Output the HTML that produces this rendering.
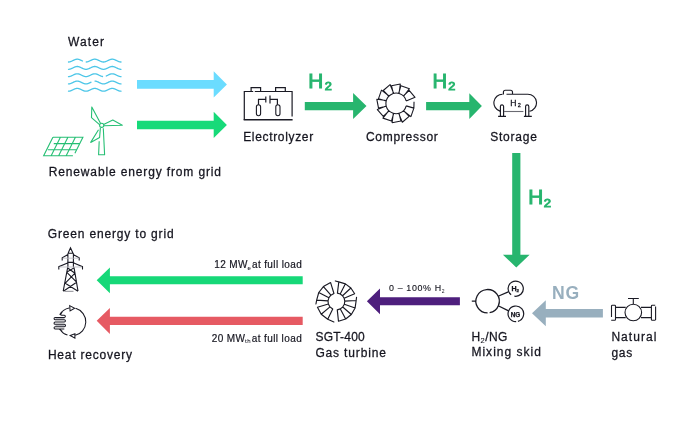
<!DOCTYPE html>
<html><head><meta charset="utf-8"><style>
html,body{margin:0;padding:0;background:#fff;width:700px;height:428px;overflow:hidden}
svg{display:block;font-family:"Liberation Sans",sans-serif;will-change:transform}
</style></head><body>
<svg width="700" height="428" viewBox="0 0 700 428">
<rect width="700" height="428" fill="#fff"/>
<path d="M68.5,62 L68.75,61.99 L69,61.98 L69.25,61.95 L69.5,61.91 L69.75,61.86 L70,61.8 L70.25,61.73 L70.5,61.65 L70.75,61.57 L71,61.47 L71.25,61.37 L71.5,61.26 L71.75,61.15 L72,61.03 L72.25,60.91 L72.5,60.79 L72.75,60.66 L73,60.54 L73.25,60.41 L73.5,60.29 L73.75,60.17 L74,60.05 L74.25,59.94 L74.5,59.83 L74.75,59.73 L75,59.63 L75.25,59.55 L75.5,59.47 L75.75,59.4 L76,59.34 L76.25,59.29 L76.5,59.25 L76.75,59.22 L77,59.21 L77.25,59.2 L77.5,59.21 L77.75,59.22 L78,59.25 L78.25,59.29 L78.5,59.34 L78.75,59.4 L79,59.47 L79.25,59.55 L79.5,59.63 L79.75,59.73 L80,59.83 L80.25,59.94 L80.5,60.05 L80.75,60.17 L81,60.29 L81.25,60.41 L81.5,60.54 L81.75,60.66 L82,60.79 L82.25,60.91 L82.5,61.03M86.25,61.99 L86.5,61.98 L86.75,61.95 L87,61.91 L87.25,61.86 L87.5,61.8 L87.75,61.73 L88,61.65 L88.25,61.57 L88.5,61.47 L88.75,61.37 L89,61.26 L89.25,61.15 L89.5,61.03 L89.75,60.91 L90,60.79 L90.25,60.66 L90.5,60.54 L90.75,60.41 L91,60.29 L91.25,60.17 L91.5,60.05 L91.75,59.94 L92,59.83 L92.25,59.73 L92.5,59.63 L92.75,59.55 L93,59.47 L93.25,59.4 L93.5,59.34 L93.75,59.29 L94,59.25 L94.25,59.22 L94.5,59.21 L94.75,59.2 L95,59.21 L95.25,59.22 L95.5,59.25 L95.75,59.29 L96,59.34 L96.25,59.4 L96.5,59.47 L96.75,59.55 L97,59.63 L97.25,59.73 L97.5,59.83 L97.75,59.94 L98,60.05 L98.25,60.17 L98.5,60.29 L98.75,60.41 L99,60.54 L99.25,60.66 L99.5,60.79 L99.75,60.91 L100,61.03 L100.25,61.15 L100.5,61.26 L100.75,61.37 L101,61.47 L101.25,61.57 L101.5,61.65 L101.75,61.73 L102,61.8 L102.25,61.86 L102.5,61.91 L102.75,61.95 L103,61.98 L103.25,61.99 L103.5,62 L103.75,61.99 L104,61.98 L104.25,61.95 L104.5,61.91 L104.75,61.86 L105,61.8 L105.25,61.73 L105.5,61.65 L105.75,61.57 L106,61.47 L106.25,61.37 L106.5,61.26 L106.75,61.15 L107,61.03 L107.25,60.91 L107.5,60.79 L107.75,60.66 L108,60.54 L108.25,60.41 L108.5,60.29 L108.75,60.17 L109,60.05 L109.25,59.94 L109.5,59.83 L109.75,59.73 L110,59.63 L110.25,59.55 L110.5,59.47 L110.75,59.4 L111,59.34 L111.25,59.29 L111.5,59.25 L111.75,59.22 L112,59.21 L112.25,59.2 L112.5,59.21 L112.75,59.22 L113,59.25 L113.25,59.29 L113.5,59.34 L113.75,59.4 L114,59.47 L114.25,59.55 L114.5,59.63 L114.75,59.73 L115,59.83 L115.25,59.94 L115.5,60.05 L115.75,60.17 L116,60.29 L116.25,60.41 L116.5,60.54 L116.75,60.66 L117,60.79 L117.25,60.91 L117.5,61.03 L117.75,61.15 L118,61.26 L118.25,61.37 L118.5,61.47 L118.75,61.57 L119,61.65 L119.25,61.73 L119.5,61.8 L119.75,61.86 L120,61.91 L120.25,61.95 L120.5,61.98 L120.75,61.99 L121,62M68.5,69.3 L68.75,69.29 L69,69.28 L69.25,69.25 L69.5,69.21 L69.75,69.16 L70,69.1 L70.25,69.03 L70.5,68.95 L70.75,68.87 L71,68.77 L71.25,68.67 L71.5,68.56 L71.75,68.45 L72,68.33 L72.25,68.21 L72.5,68.09 L72.75,67.96 L73,67.84 L73.25,67.71 L73.5,67.59 L73.75,67.47 L74,67.35 L74.25,67.24 L74.5,67.13 L74.75,67.03 L75,66.93 L75.25,66.85 L75.5,66.77 L75.75,66.7 L76,66.64 L76.25,66.59 L76.5,66.55 L76.75,66.52 L77,66.51 L77.25,66.5 L77.5,66.51 L77.75,66.52 L78,66.55 L78.25,66.59 L78.5,66.64 L78.75,66.7 L79,66.77 L79.25,66.85 L79.5,66.93 L79.75,67.03 L80,67.13 L80.25,67.24 L80.5,67.35 L80.75,67.47 L81,67.59 L81.25,67.71 L81.5,67.84 L81.75,67.96 L82,68.09 L82.25,68.21 L82.5,68.33 L82.75,68.45 L83,68.56 L83.25,68.67 L83.5,68.77 L83.75,68.87 L84,68.95 L84.25,69.03 L84.5,69.1 L84.75,69.16 L85,69.21 L85.25,69.25 L85.5,69.28 L85.75,69.29 L86,69.3 L86.25,69.29 L86.5,69.28 L86.75,69.25 L87,69.21 L87.25,69.16 L87.5,69.1 L87.75,69.03 L88,68.95 L88.25,68.87 L88.5,68.77 L88.75,68.67 L89,68.56 L89.25,68.45 L89.5,68.33 L89.75,68.21 L90,68.09 L90.25,67.96 L90.5,67.84 L90.75,67.71 L91,67.59 L91.25,67.47 L91.5,67.35 L91.75,67.24 L92,67.13 L92.25,67.03 L92.5,66.93 L92.75,66.85 L93,66.77 L93.25,66.7 L93.5,66.64 L93.75,66.59 L94,66.55 L94.25,66.52 L94.5,66.51 L94.75,66.5 L95,66.51 L95.25,66.52 L95.5,66.55 L95.75,66.59 L96,66.64 L96.25,66.7 L96.5,66.77 L96.75,66.85 L97,66.93 L97.25,67.03 L97.5,67.13 L97.75,67.24 L98,67.35 L98.25,67.47 L98.5,67.59 L98.75,67.71 L99,67.84 L99.25,67.96 L99.5,68.09 L99.75,68.21 L100,68.33 L100.25,68.45 L100.5,68.56 L100.75,68.67 L101,68.77 L101.25,68.87 L101.5,68.95 L101.75,69.03 L102,69.1 L102.25,69.16 L102.5,69.21 L102.75,69.25 L103,69.28 L103.25,69.29 L103.5,69.3 L103.75,69.29 L104,69.28 L104.25,69.25 L104.5,69.21 L104.75,69.16 L105,69.1 L105.25,69.03 L105.5,68.95 L105.75,68.87 L106,68.77 L106.25,68.67 L106.5,68.56 L106.75,68.45 L107,68.33 L107.25,68.21 L107.5,68.09 L107.75,67.96 L108,67.84 L108.25,67.71 L108.5,67.59 L108.75,67.47 L109,67.35 L109.25,67.24 L109.5,67.13 L109.75,67.03 L110,66.93 L110.25,66.85 L110.5,66.77 L110.75,66.7 L111,66.64 L111.25,66.59 L111.5,66.55 L111.75,66.52 L112,66.51 L112.25,66.5 L112.5,66.51 L112.75,66.52 L113,66.55 L113.25,66.59 L113.5,66.64 L113.75,66.7 L114,66.77 L114.25,66.85 L114.5,66.93 L114.75,67.03 L115,67.13 L115.25,67.24 L115.5,67.35 L115.75,67.47 L116,67.59 L116.25,67.71 L116.5,67.84 L116.75,67.96 L117,68.09 L117.25,68.21 L117.5,68.33 L117.75,68.45 L118,68.56 L118.25,68.67 L118.5,68.77 L118.75,68.87 L119,68.95 L119.25,69.03 L119.5,69.1 L119.75,69.16 L120,69.21 L120.25,69.25 L120.5,69.28 L120.75,69.29 L121,69.3M68.5,76.6 L68.75,76.59 L69,76.58 L69.25,76.55 L69.5,76.51 L69.75,76.46 L70,76.4 L70.25,76.33 L70.5,76.25 L70.75,76.17 L71,76.07 L71.25,75.97 L71.5,75.86 L71.75,75.75 L72,75.63 L72.25,75.51 L72.5,75.39 L72.75,75.26 L73,75.14 L73.25,75.01 L73.5,74.89 L73.75,74.77 L74,74.65 L74.25,74.54 L74.5,74.43 L74.75,74.33 L75,74.23 L75.25,74.15 L75.5,74.07 L75.75,74 L76,73.94 L76.25,73.89 L76.5,73.85 L76.75,73.82 L77,73.81 L77.25,73.8 L77.5,73.81 L77.75,73.82 L78,73.85 L78.25,73.89 L78.5,73.94 L78.75,74 L79,74.07 L79.25,74.15 L79.5,74.23 L79.75,74.33 L80,74.43 L80.25,74.54 L80.5,74.65 L80.75,74.77 L81,74.89 L81.25,75.01 L81.5,75.14 L81.75,75.26 L82,75.39 L82.25,75.51 L82.5,75.63 L82.75,75.75 L83,75.86 L83.25,75.97 L83.5,76.07 L83.75,76.17 L84,76.25 L84.25,76.33 L84.5,76.4 L84.75,76.46 L85,76.51 L85.25,76.55 L85.5,76.58 L85.75,76.59 L86,76.6 L86.25,76.59 L86.5,76.58 L86.75,76.55 L87,76.51 L87.25,76.46 L87.5,76.4 L87.75,76.33 L88,76.25 L88.25,76.17 L88.5,76.07 L88.75,75.97 L89,75.86 L89.25,75.75 L89.5,75.63 L89.75,75.51 L90,75.39 L90.25,75.26 L90.5,75.14 L90.75,75.01 L91,74.89 L91.25,74.77 L91.5,74.65 L91.75,74.54 L92,74.43 L92.25,74.33 L92.5,74.23 L92.75,74.15 L93,74.07 L93.25,74 L93.5,73.94 L93.75,73.89 L94,73.85 L94.25,73.82 L94.5,73.81 L94.75,73.8 L95,73.81 L95.25,73.82 L95.5,73.85 L95.75,73.89 L96,73.94 L96.25,74 L96.5,74.07 L96.75,74.15 L97,74.23 L97.25,74.33 L97.5,74.43 L97.75,74.54 L98,74.65 L98.25,74.77 L98.5,74.89 L98.75,75.01 L99,75.14 L99.25,75.26 L99.5,75.39 L99.75,75.51 L100,75.63 L100.25,75.75 L100.5,75.86 L100.75,75.97 L101,76.07 L101.25,76.17 L101.5,76.25 L101.75,76.33 L102,76.4 L102.25,76.46 L102.5,76.51M106.25,75.97 L106.5,75.86 L106.75,75.75 L107,75.63 L107.25,75.51 L107.5,75.39 L107.75,75.26 L108,75.14 L108.25,75.01 L108.5,74.89 L108.75,74.77 L109,74.65 L109.25,74.54 L109.5,74.43 L109.75,74.33 L110,74.23 L110.25,74.15 L110.5,74.07 L110.75,74 L111,73.94 L111.25,73.89 L111.5,73.85 L111.75,73.82 L112,73.81 L112.25,73.8 L112.5,73.81 L112.75,73.82 L113,73.85 L113.25,73.89 L113.5,73.94 L113.75,74 L114,74.07 L114.25,74.15 L114.5,74.23 L114.75,74.33 L115,74.43 L115.25,74.54 L115.5,74.65 L115.75,74.77 L116,74.89 L116.25,75.01 L116.5,75.14 L116.75,75.26 L117,75.39 L117.25,75.51 L117.5,75.63 L117.75,75.75 L118,75.86 L118.25,75.97 L118.5,76.07 L118.75,76.17 L119,76.25 L119.25,76.33 L119.5,76.4 L119.75,76.46 L120,76.51 L120.25,76.55 L120.5,76.58 L120.75,76.59 L121,76.6M68.5,83.9 L68.75,83.89 L69,83.88 L69.25,83.85 L69.5,83.81 L69.75,83.76 L70,83.7 L70.25,83.63 L70.5,83.55 L70.75,83.47 L71,83.37 L71.25,83.27 L71.5,83.16 L71.75,83.05 L72,82.93 L72.25,82.81 L72.5,82.69 L72.75,82.56 L73,82.44 L73.25,82.31 L73.5,82.19 L73.75,82.07 L74,81.95 L74.25,81.84 L74.5,81.73 L74.75,81.63 L75,81.53 L75.25,81.45 L75.5,81.37 L75.75,81.3 L76,81.24 L76.25,81.19 L76.5,81.15 L76.75,81.12 L77,81.11 L77.25,81.1 L77.5,81.11 L77.75,81.12 L78,81.15 L78.25,81.19 L78.5,81.24 L78.75,81.3 L79,81.37 L79.25,81.45 L79.5,81.53 L79.75,81.63 L80,81.73 L80.25,81.84 L80.5,81.95 L80.75,82.07 L81,82.19 L81.25,82.31 L81.5,82.44 L81.75,82.56 L82,82.69 L82.25,82.81 L82.5,82.93 L82.75,83.05 L83,83.16 L83.25,83.27 L83.5,83.37 L83.75,83.47 L84,83.55 L84.25,83.63 L84.5,83.7 L84.75,83.76 L85,83.81 L85.25,83.85 L85.5,83.88 L85.75,83.89 L86,83.9 L86.25,83.89 L86.5,83.88 L86.75,83.85 L87,83.81 L87.25,83.76 L87.5,83.7 L87.75,83.63 L88,83.55 L88.25,83.47 L88.5,83.37 L88.75,83.27 L89,83.16 L89.25,83.05 L89.5,82.93 L89.75,82.81 L90,82.69 L90.25,82.56 L90.5,82.44 L90.75,82.31 L91,82.19M95,81.11 L95.25,81.12 L95.5,81.15 L95.75,81.19 L96,81.24 L96.25,81.3 L96.5,81.37 L96.75,81.45 L97,81.53 L97.25,81.63 L97.5,81.73 L97.75,81.84 L98,81.95 L98.25,82.07 L98.5,82.19 L98.75,82.31 L99,82.44 L99.25,82.56 L99.5,82.69 L99.75,82.81 L100,82.93 L100.25,83.05 L100.5,83.16 L100.75,83.27 L101,83.37 L101.25,83.47 L101.5,83.55 L101.75,83.63 L102,83.7 L102.25,83.76 L102.5,83.81 L102.75,83.85 L103,83.88 L103.25,83.89 L103.5,83.9 L103.75,83.89 L104,83.88 L104.25,83.85 L104.5,83.81 L104.75,83.76 L105,83.7 L105.25,83.63 L105.5,83.55 L105.75,83.47 L106,83.37 L106.25,83.27 L106.5,83.16 L106.75,83.05 L107,82.93 L107.25,82.81 L107.5,82.69 L107.75,82.56 L108,82.44 L108.25,82.31 L108.5,82.19 L108.75,82.07 L109,81.95 L109.25,81.84 L109.5,81.73 L109.75,81.63 L110,81.53 L110.25,81.45 L110.5,81.37 L110.75,81.3 L111,81.24 L111.25,81.19 L111.5,81.15 L111.75,81.12 L112,81.11 L112.25,81.1 L112.5,81.11 L112.75,81.12 L113,81.15 L113.25,81.19 L113.5,81.24 L113.75,81.3 L114,81.37 L114.25,81.45 L114.5,81.53 L114.75,81.63 L115,81.73 L115.25,81.84 L115.5,81.95 L115.75,82.07 L116,82.19 L116.25,82.31 L116.5,82.44 L116.75,82.56 L117,82.69 L117.25,82.81 L117.5,82.93 L117.75,83.05 L118,83.16 L118.25,83.27 L118.5,83.37 L118.75,83.47 L119,83.55 L119.25,83.63 L119.5,83.7 L119.75,83.76 L120,83.81 L120.25,83.85 L120.5,83.88 L120.75,83.89 L121,83.9M68.5,91.2 L68.75,91.19 L69,91.18 L69.25,91.15 L69.5,91.11 L69.75,91.06 L70,91 L70.25,90.93 L70.5,90.85 L70.75,90.77 L71,90.67 L71.25,90.57 L71.5,90.46 L71.75,90.35 L72,90.23 L72.25,90.11 L72.5,89.99 L72.75,89.86 L73,89.74 L73.25,89.61 L73.5,89.49 L73.75,89.37 L74,89.25 L74.25,89.14 L74.5,89.03 L74.75,88.93 L75,88.83 L75.25,88.75 L75.5,88.67 L75.75,88.6 L76,88.54 L76.25,88.49 L76.5,88.45 L76.75,88.42 L77,88.41 L77.25,88.4 L77.5,88.41 L77.75,88.42 L78,88.45 L78.25,88.49 L78.5,88.54 L78.75,88.6 L79,88.67 L79.25,88.75 L79.5,88.83 L79.75,88.93 L80,89.03 L80.25,89.14 L80.5,89.25 L80.75,89.37 L81,89.49 L81.25,89.61 L81.5,89.74 L81.75,89.86 L82,89.99 L82.25,90.11 L82.5,90.23 L82.75,90.35 L83,90.46 L83.25,90.57 L83.5,90.67 L83.75,90.77 L84,90.85 L84.25,90.93 L84.5,91 L84.75,91.06 L85,91.11 L85.25,91.15 L85.5,91.18 L85.75,91.19 L86,91.2 L86.25,91.19 L86.5,91.18 L86.75,91.15 L87,91.11 L87.25,91.06 L87.5,91 L87.75,90.93 L88,90.85 L88.25,90.77 L88.5,90.67 L88.75,90.57 L89,90.46 L89.25,90.35 L89.5,90.23 L89.75,90.11 L90,89.99 L90.25,89.86 L90.5,89.74 L90.75,89.61 L91,89.49 L91.25,89.37 L91.5,89.25 L91.75,89.14 L92,89.03 L92.25,88.93 L92.5,88.83 L92.75,88.75 L93,88.67 L93.25,88.6 L93.5,88.54 L93.75,88.49 L94,88.45 L94.25,88.42 L94.5,88.41 L94.75,88.4 L95,88.41 L95.25,88.42 L95.5,88.45 L95.75,88.49 L96,88.54 L96.25,88.6 L96.5,88.67 L96.75,88.75 L97,88.83 L97.25,88.93 L97.5,89.03 L97.75,89.14 L98,89.25 L98.25,89.37 L98.5,89.49 L98.75,89.61 L99,89.74 L99.25,89.86 L99.5,89.99 L99.75,90.11 L100,90.23 L100.25,90.35 L100.5,90.46 L100.75,90.57 L101,90.67 L101.25,90.77 L101.5,90.85 L101.75,90.93 L102,91 L102.25,91.06 L102.5,91.11 L102.75,91.15 L103,91.18 L103.25,91.19 L103.5,91.2 L103.75,91.19 L104,91.18 L104.25,91.15 L104.5,91.11 L104.75,91.06 L105,91 L105.25,90.93 L105.5,90.85 L105.75,90.77 L106,90.67 L106.25,90.57 L106.5,90.46 L106.75,90.35 L107,90.23 L107.25,90.11 L107.5,89.99 L107.75,89.86 L108,89.74 L108.25,89.61 L108.5,89.49 L108.75,89.37 L109,89.25 L109.25,89.14 L109.5,89.03 L109.75,88.93 L110,88.83 L110.25,88.75 L110.5,88.67 L110.75,88.6 L111,88.54 L111.25,88.49 L111.5,88.45 L111.75,88.42 L112,88.41 L112.25,88.4 L112.5,88.41 L112.75,88.42 L113,88.45 L113.25,88.49 L113.5,88.54 L113.75,88.6 L114,88.67 L114.25,88.75 L114.5,88.83 L114.75,88.93 L115,89.03 L115.25,89.14 L115.5,89.25 L115.75,89.37 L116,89.49 L116.25,89.61 L116.5,89.74 L116.75,89.86 L117,89.99 L117.25,90.11 L117.5,90.23 L117.75,90.35 L118,90.46 L118.25,90.57 L118.5,90.67 L118.75,90.77 L119,90.85 L119.25,90.93 L119.5,91 L119.75,91.06 L120,91.11 L120.25,91.15 L120.5,91.18 L120.75,91.19 L121,91.2" fill="none" stroke="#4cc6e8" stroke-width="1.3" stroke-linecap="round"/>
<polygon points="137,80.1 213.7,80.1 213.7,71.3 226.9,84.4 213.7,97.5 213.7,88.7 137,88.7" fill="#6bdcff"/>
<polygon points="137,120.65 213.7,120.65 213.7,111.8 226.9,125 213.7,138.1 213.7,129.35 137,129.35" fill="#17da79"/>
<polygon points="304.8,101.9 353.1,101.9 353.1,93 366.5,106.1 353.1,119.1 353.1,110.3 304.8,110.3" fill="#27b56e"/>
<polygon points="426.1,101.9 469.3,101.9 469.3,93.2 481.9,106.1 469.3,119.1 469.3,110.3 426.1,110.3" fill="#27b56e"/>
<polygon points="512.2,152.9 520.4,152.9 520.4,254.7 529.6,254.7 516.3,267.6 502.9,254.7 512.2,254.7" fill="#27b56e"/>
<polygon points="602.9,309.1 545.8,309.1 545.8,300.2 532,313.25 545.8,326.2 545.8,317.4 602.9,317.4" fill="#98afbe"/>
<polygon points="459.9,297.25 380,297.25 380,288.6 366.9,301.25 380,314.3 380,305.25 459.9,305.25" fill="#4e1f7d"/>
<polygon points="302.7,276.15 109.9,276.15 109.9,267.5 96.7,280.25 109.9,293.2 109.9,284.35 302.7,284.35" fill="#16d878"/>
<polygon points="302.7,316.7 109.9,316.7 109.9,308 96.7,320.8 109.9,334.1 109.9,324.9 302.7,324.9" fill="#e65a63"/>
<g transform="translate(0,0.4)"><path d="M52.9,136.9 H82.9 L74.9,152.9 M52.9,136.9 L43.65,155.4 H72.9 M60.4,136.9 L51.15,155.4 M67.9,136.9 L58.65,155.4 M75.4,136.9 L66.15,155.4 M53.75,143.2 H79.75 M47.9,149.3 H76.7" fill="none" stroke="#26bf74" stroke-width="1.1" stroke-linejoin="miter"/></g>
<path d="M99.2,141.3 L98.6,154.8 H104.6 L103.3,128.2 M100.6,123.6 L91.8,107.1 L91.5,117.6 L99.8,124.8 M103.6,124.5 L112.8,120.0 L122.3,125.3 L103.9,125.8 M98.5,129.8 L90.7,142.4 L99.6,137.5 L100.4,127.6" fill="none" stroke="#26bf74" stroke-width="1.1" stroke-linejoin="round"/>
<circle cx="101.7" cy="125.3" r="2.1" fill="#fff" stroke="#26bf74" stroke-width="1.1"/>
<path d="M244.3,119.9 V91.5 H253.2 M251.1,91.5 V87.6 H260.6 V91.5 M254.8,91.5 H292.1 V116.6 M275.6,91.5 V87.6 H285.3 V91.5 M265.8,96.6 V102.4 M270,95.4 V103.6 M265.8,99.4 H258.5 V104.7 M270,99.4 H277.4 V104.7" fill="none" stroke="#1a1a24" stroke-width="1.2"/>
<path d="M243.7,119.8 H292.6" stroke="#1a1a24" stroke-width="1.6"/>
<rect x="256.4" y="104.7" width="4.2" height="11" rx="2.1" fill="none" stroke="#1a1a24" stroke-width="1.1"/>
<rect x="275.8" y="104.7" width="4.2" height="11" rx="2.1" fill="none" stroke="#1a1a24" stroke-width="1.1"/>
<path d="M393.36,93.5 L391.46,85.72 L400.32,84.03 L399.04,93.5 M398.69,93.41 L400.94,85.72 L409.45,88.69 L403.61,96.25 M403.35,95.99 L409.14,90.46 L415.03,97.28 L406.19,100.91 M406.19,105.89 L413.88,108.14 L410.91,116.65 L403.35,110.81 M403.61,110.55 L409.14,116.34 L402.32,122.23 L398.69,113.39 M399.04,113.3 L400.94,121.08 L392.08,122.77 L393.36,113.3 M393.71,113.39 L391.46,121.08 L382.95,118.11 L388.79,110.55 M389.05,110.81 L383.26,116.34 L377.37,109.52 L386.21,105.89 M386.3,106.24 L378.52,108.14 L376.83,99.28 L386.3,100.56 M386.21,100.91 L378.52,98.66 L381.49,90.15 L389.05,95.99 M388.79,96.25 L383.26,90.46 L390.08,84.57 L393.71,93.41 M413.88,108.14 L414.03,101.84 M406.19,105.89 A10.3,10.3 0 1 1 406.19,100.91" fill="none" stroke="#1a1a24" stroke-width="1.1" stroke-linejoin="round"/>
<path d="M506.5,94.2 H527.85 M527.85,94.2 A8.65,8.65 0 0 1 529.65,111.31 M499.88,111.08 A8.65,8.65 0 0 1 502.53,94.2 M503.4,94.5 V92.2 A2,2 0 0 1 505.4,90.2 H510.5 A2,2 0 0 1 512.5,92.2 V94.2 M500.4,116.3 V106.5 A1.6,1.6 0 0 1 503.6,106.5 V116.3 M498.1,116.3 H506 M525.6,116.3 V106.5 A1.6,1.6 0 0 1 528.8,106.5 V116.3 M523.9,116.3 H531.8" fill="none" stroke="#1a1a24" stroke-width="1.15"/>
<path d="M503.9,111.5 H523.4" stroke="#6a6a72" stroke-width="1.1"/>
<path d="M487.6,312.9 A11.7,11.7 0 1 1 489.63,312.72 M471.8,301.1 H475.8 M498.7,296 L508.3,291.8 M498.7,306 L508.6,310.8" fill="none" stroke="#1a1a24" stroke-width="1.3"/>
<path d="M511.13,294.77 A7.6,7.6 0 1 1 514.38,296.18" fill="none" stroke="#1a1a24" stroke-width="1.2"/>
<path d="M516.17,321.6 A7.8,7.8 0 1 1 517.92,321.33" fill="none" stroke="#1a1a24" stroke-width="1.2"/>
<path d="M633.3,304.1 V298.5 M628,298.5 H638.8 M615.5,307.4 H625.7 M615.5,317.6 H625.7 M641,307.4 H651.4 M641,317.6 H651.4 M611.5,317 V306 A0.8,0.8 0 0 1 612.3,305.3 H614.7 A0.8,0.8 0 0 1 615.5,306 V319.4 A0.8,0.8 0 0 1 614.7,320.2 H611.2 M655.6,306.5 V319.4 A0.8,0.8 0 0 1 654.8,320.2 H652.2 A0.8,0.8 0 0 1 651.4,319.4 V306 A0.8,0.8 0 0 1 652.2,305.3 H655.2" fill="none" stroke="#1a1a24" stroke-width="1.1"/>
<circle cx="633.3" cy="312.5" r="8.3" fill="none" stroke="#1a1a24" stroke-width="1.1"/>
<path d="M315.96,304.01 L316.65,300.12 L318.76,292.51 L323.41,286.56 L330.61,282.57 M316.65,300.12 L328.02,300.91 M318.76,292.51 L328.92,297.69 M323.41,286.56 L330.89,295.16 M330.61,282.57 L333.94,293.47 M335.32,280.94 L338.81,281.85 L345.39,283.86 L350.88,288 L354.63,293.76 M338.81,281.85 L337.42,293.16 M345.39,283.86 L340.21,294.02 M350.88,288 L342.54,295.77 M354.63,293.76 L344.13,298.22 M356.54,297.22 L356.17,300.46 L355.12,307.95 L351.34,314.49 L345.7,318.98 L338.47,321.19 M356.17,300.46 L344.79,301.06 M355.12,307.95 L344.34,304.23 M351.34,314.49 L342.74,307.01 M345.7,318.98 L340.34,308.92 M338.47,321.19 L337.28,309.85 M333.89,321.94 L327.72,319.3 L321.23,314.23 L317.47,307.29 M327.72,319.3 L332.72,309.05 M321.23,314.23 L329.97,306.9 M317.47,307.29 L328.37,303.96 M337.42,293.16 L340.21,294.02 L342.54,295.77 L344.13,298.22 L344.79,301.06 L344.34,304.23 L342.74,307.01 L340.34,308.92 L337.28,309.85 M332.72,309.05 L329.97,306.9 L328.37,303.96 L328.02,300.91 L328.92,297.69 L330.89,295.16 L333.94,293.47" fill="none" stroke="#1a1a24" stroke-width="1.15" stroke-linejoin="round" stroke-linecap="round"/>
<path d="M68.2,252.9 L70.5,247.8 L72.9,252.9 M67.9,253.3 H73.4 M67.9,253.3 V267.3 M73.4,253.3 V267.3 M67.2,262.4 H74.2 M68,254.5 L62.2,257.8 V260.6 M73.2,254.5 L79.2,257.8 V260.6 M67.6,263 L58.8,266.7 V269.4 M73.8,263 L82.5,266.7 V269.4 M67.7,267.3 L63.2,291.2 M74.0,267.3 L78,291.2 M66.6,272.2 L74.4,267.6 M67.7,268 L75,273.2 M66.6,272.2 L76.6,282.2 M75,273.2 L65.3,283.2 M65.3,283.2 L78,291.2 M76.6,282.2 L63.4,291.2" fill="none" stroke="#1a1a24" stroke-width="1.1"/>
<path d="M62.8,258.2 H79 M59.5,267 H82" stroke="#b8b8be" stroke-width="0.8"/>
<path d="M64.5,291.3 H73.5" stroke="#8a8a92" stroke-width="1"/>
<path d="M55.5,318.55 H64.5 M55.5,325.5 H64.5" stroke="#b4b4bb" stroke-width="1.6"/>
<path d="M75.66,308.34 A14,14 0 0 1 74.71,335.49 M67.47,335.11 A14,14 0 0 1 60.06,329.42 M59.68,314.8 A14,14 0 0 1 69.13,308.06 M69.7,305.6 L74.6,308.2 L70.1,310.9 Z M70.2,335.5 L74.9,333.7 L74.9,338.2 Z M62.3,312 L60.5,314.4 Q60.7,315.3 61.8,315.3 H64.3 A1.05,1.05 0 0 1 64.3,317.4 H55.2 A1.15,1.15 0 0 0 55.2,319.7 H64.3 A1.15,1.15 0 0 1 64.3,322 H55.2 A1.15,1.15 0 0 0 55.2,324.3 H64.3 A1.2,1.2 0 0 1 64.3,326.7 H55.2 A1.15,1.15 0 0 0 55.2,329 H64.3 M55.2,329 H59.3 L62.3,331.5" fill="none" stroke="#1a1a24" stroke-width="1.05"/>
<text x="68" y="45.8" font-size="12" font-weight="normal" fill="#15151f" stroke="#15151f" stroke-width="0.26" textLength="36" lengthAdjust="spacing">Water</text>
<text x="48.7" y="175.9" font-size="12" font-weight="normal" fill="#15151f" stroke="#15151f" stroke-width="0.26" textLength="172.3" lengthAdjust="spacing">Renewable energy from grid</text>
<text x="243.2" y="140.8" font-size="12" font-weight="normal" fill="#15151f" stroke="#15151f" stroke-width="0.26" textLength="70" lengthAdjust="spacing">Electrolyzer</text>
<text x="365.9" y="140.8" font-size="12" font-weight="normal" fill="#15151f" stroke="#15151f" stroke-width="0.26" textLength="71.9" lengthAdjust="spacing">Compressor</text>
<text x="490.2" y="140.8" font-size="12" font-weight="normal" fill="#15151f" stroke="#15151f" stroke-width="0.26" textLength="46.8" lengthAdjust="spacing">Storage</text>
<text x="47.8" y="237.9" font-size="12" font-weight="normal" fill="#15151f" stroke="#15151f" stroke-width="0.26" textLength="125.8" lengthAdjust="spacing">Green energy to grid</text>
<text x="47.9" y="359.3" font-size="12" font-weight="normal" fill="#15151f" stroke="#15151f" stroke-width="0.26" textLength="84.2" lengthAdjust="spacing">Heat recovery</text>
<text x="315.4" y="341.4" font-size="12" font-weight="normal" fill="#15151f" stroke="#15151f" stroke-width="0.26" textLength="49.4" lengthAdjust="spacing">SGT-400</text>
<text x="315.4" y="356.5" font-size="12" font-weight="normal" fill="#15151f" stroke="#15151f" stroke-width="0.26" textLength="70.5" lengthAdjust="spacing">Gas turbine</text>
<text x="471.4" y="341.1" font-size="12" font-weight="normal" fill="#15151f" stroke="#15151f" stroke-width="0.26" textLength="36" lengthAdjust="spacing">H<tspan font-size="7.5" dy="1.8" stroke-width="0.1">2</tspan><tspan dy="-1.8">/NG</tspan></text>
<text x="471.4" y="356.2" font-size="12" font-weight="normal" fill="#15151f" stroke="#15151f" stroke-width="0.26" textLength="69.6" lengthAdjust="spacing">Mixing skid</text>
<text x="611.4" y="341.4" font-size="12" font-weight="normal" fill="#15151f" stroke="#15151f" stroke-width="0.26" textLength="45" lengthAdjust="spacing">Natural</text>
<text x="611.4" y="356.5" font-size="12" font-weight="normal" fill="#15151f" stroke="#15151f" stroke-width="0.26" textLength="20.9" lengthAdjust="spacing">gas</text>
<text x="214.2" y="267.9" font-size="10" font-weight="normal" fill="#15151f" stroke="#15151f" stroke-width="0.18" textLength="87.5" lengthAdjust="spacing">12 MW<tspan font-size="6" dy="1.8" dx="-0.3" stroke-width="0.05">e</tspan><tspan dy="-1.8" dx="0.8">at full load</tspan></text>
<text x="211.7" y="341.6" font-size="10" font-weight="normal" fill="#15151f" stroke="#15151f" stroke-width="0.18" textLength="90" lengthAdjust="spacing">20 MW<tspan font-size="6" dy="1.8" dx="-0.3" stroke-width="0.05">th</tspan><tspan dy="-1.8" dx="0.8">at full load</tspan></text>
<text x="389" y="291" font-size="8.9" font-weight="normal" fill="#15151f" stroke="#15151f" stroke-width="0.12" textLength="55.6" lengthAdjust="spacing">0 – 100% H<tspan font-size="5" dy="1.5" stroke-width="0">2</tspan></text>
<text x="308.2" y="87.6" font-size="19.8" font-weight="normal" fill="#27b56e" stroke="#27b56e" stroke-width="0.95" textLength="15" lengthAdjust="spacingAndGlyphs">H</text><text x="324.8" y="90.4" font-size="11.2" font-weight="normal" fill="#27b56e" stroke="#27b56e" stroke-width="0.9" textLength="7.1" lengthAdjust="spacingAndGlyphs">2</text>
<text x="432.5" y="87.8" font-size="19.8" font-weight="normal" fill="#27b56e" stroke="#27b56e" stroke-width="0.95" textLength="14.6" lengthAdjust="spacingAndGlyphs">H</text><text x="448.3" y="89.6" font-size="11.2" font-weight="normal" fill="#27b56e" stroke="#27b56e" stroke-width="0.9" textLength="7.1" lengthAdjust="spacingAndGlyphs">2</text>
<text x="528.2" y="204.4" font-size="19.8" font-weight="normal" fill="#27b56e" stroke="#27b56e" stroke-width="0.95" textLength="15" lengthAdjust="spacingAndGlyphs">H</text><text x="543.8" y="206.7" font-size="11.2" font-weight="normal" fill="#27b56e" stroke="#27b56e" stroke-width="0.9" textLength="7.3" lengthAdjust="spacingAndGlyphs">2</text>
<text x="552" y="298.6" font-size="17.6" font-weight="bold" fill="#98afbe" textLength="27.2" lengthAdjust="spacing">NG</text>
<text x="511.5" y="291.3" font-size="6.3" font-weight="bold" fill="#15151f" stroke="#15151f" stroke-width="0.25" textLength="7.6" lengthAdjust="spacingAndGlyphs">H<tspan font-size="4" dy="1">2</tspan></text>
<text x="510.7" y="316.6" font-size="6.3" font-weight="bold" fill="#15151f" stroke="#15151f" stroke-width="0.25" textLength="9.6" lengthAdjust="spacingAndGlyphs">NG</text>
<text x="510.3" y="105.8" font-size="8.6" font-weight="normal" fill="#15151f" stroke="#15151f" stroke-width="0.3" textLength="10.4" lengthAdjust="spacing">H<tspan font-size="5.5" dy="1.3">2</tspan></text>
</svg></body></html>
